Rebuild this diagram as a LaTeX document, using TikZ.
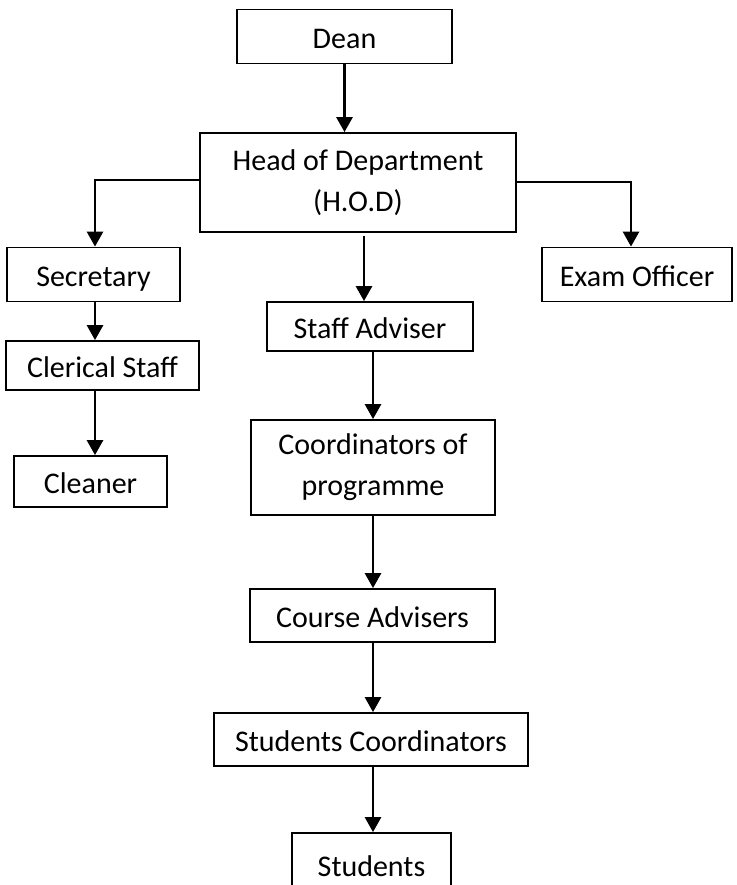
\documentclass[tikz,border=0pt]{standalone}
\usepackage{fontspec}
\setmainfont{Carlito}
\usetikzlibrary{arrows.meta}
\begin{document}
\begin{tikzpicture}[x=1pt,y=-1pt,
  box/.style={draw, line width=1.8pt, align=center, inner sep=0pt,
    font=\fontsize{30}{41}\selectfont},
  oneline/.style={box, text height=24pt, text depth=0pt},
  arr/.style={line width=2.8pt, -{Triangle[length=15pt,width=16pt]}},
  link/.style={line width=2pt}]
  \useasboundingbox (0,0) rectangle (736,885);
  \clip (0,0) rectangle (736,885);

  % boxes
  \node[oneline, minimum width=215pt, minimum height=54pt] (dean)  at (344.5,36.5) {Dean};
  \node[box, minimum width=316pt, minimum height=99pt]     (hod)   at (358,182.5)  {Head of Department\\(H.O.D)};
  \node[oneline, minimum width=173pt, minimum height=54pt] (sec)   at (93.5,274.5) {Secretary};
  \node[oneline, minimum width=190pt, minimum height=54pt] (exam)  at (637,274.5)  {Exam Officer};
  \node[oneline, minimum width=206pt, minimum height=49pt] (staff) at (370,326.5)  {Staff Adviser};
  \node[oneline, minimum width=193pt, minimum height=49pt] (cler)  at (102.5,365.5){Clerical Staff};
  \node[oneline, minimum width=153pt, minimum height=51pt] (clean) at (90.5,481.5) {Cleaner};
  \node[box, minimum width=244pt, minimum height=95pt]     (coord) at (373,467.5)  {Coordinators of\\programme};
  \node[oneline, minimum width=245pt, minimum height=53pt] (course) at (372.5,615.5) {Course Advisers};
  \node[oneline, minimum width=314pt, minimum height=53pt] (stco)  at (371,739.5)  {Students Coordinators};
  \node[oneline, minimum width=159pt, minimum height=62pt] (stud)  at (371.5,864)  {Students};

  % connector helper points
  \coordinate (lx)   at (95,180);
  \coordinate (rx)   at (631,182);
  \coordinate (hs)   at (364,236);
  \coordinate (mx)   at (373,0);

  % HOD side branches: thin horizontal run, then thick drop with arrow
  \draw[link] (hod.west |- lx) -- ([xshift=-1.4pt]lx);
  \draw[arr] (lx) -- (lx |- sec.north);
  \draw[link] (hod.east |- rx) -- ([xshift=1.4pt]rx);
  \draw[arr] (rx) -- (rx |- exam.north);

  % vertical chain
  \draw[arr] (dean.south) -- (dean.south |- hod.north);
  \draw[arr] (hs) -- (hs |- staff.north);
  \draw[arr] (lx |- sec.south) -- (lx |- cler.north);
  \draw[arr] (lx |- cler.south) -- (lx |- clean.north);
  \draw[arr] (mx |- staff.south) -- (mx |- coord.north);
  \draw[arr] (mx |- coord.south) -- (mx |- course.north);
  \draw[arr] (mx |- course.south) -- (mx |- stco.north);
  \draw[arr] (mx |- stco.south) -- (mx |- stud.north);
\end{tikzpicture}
\end{document}
